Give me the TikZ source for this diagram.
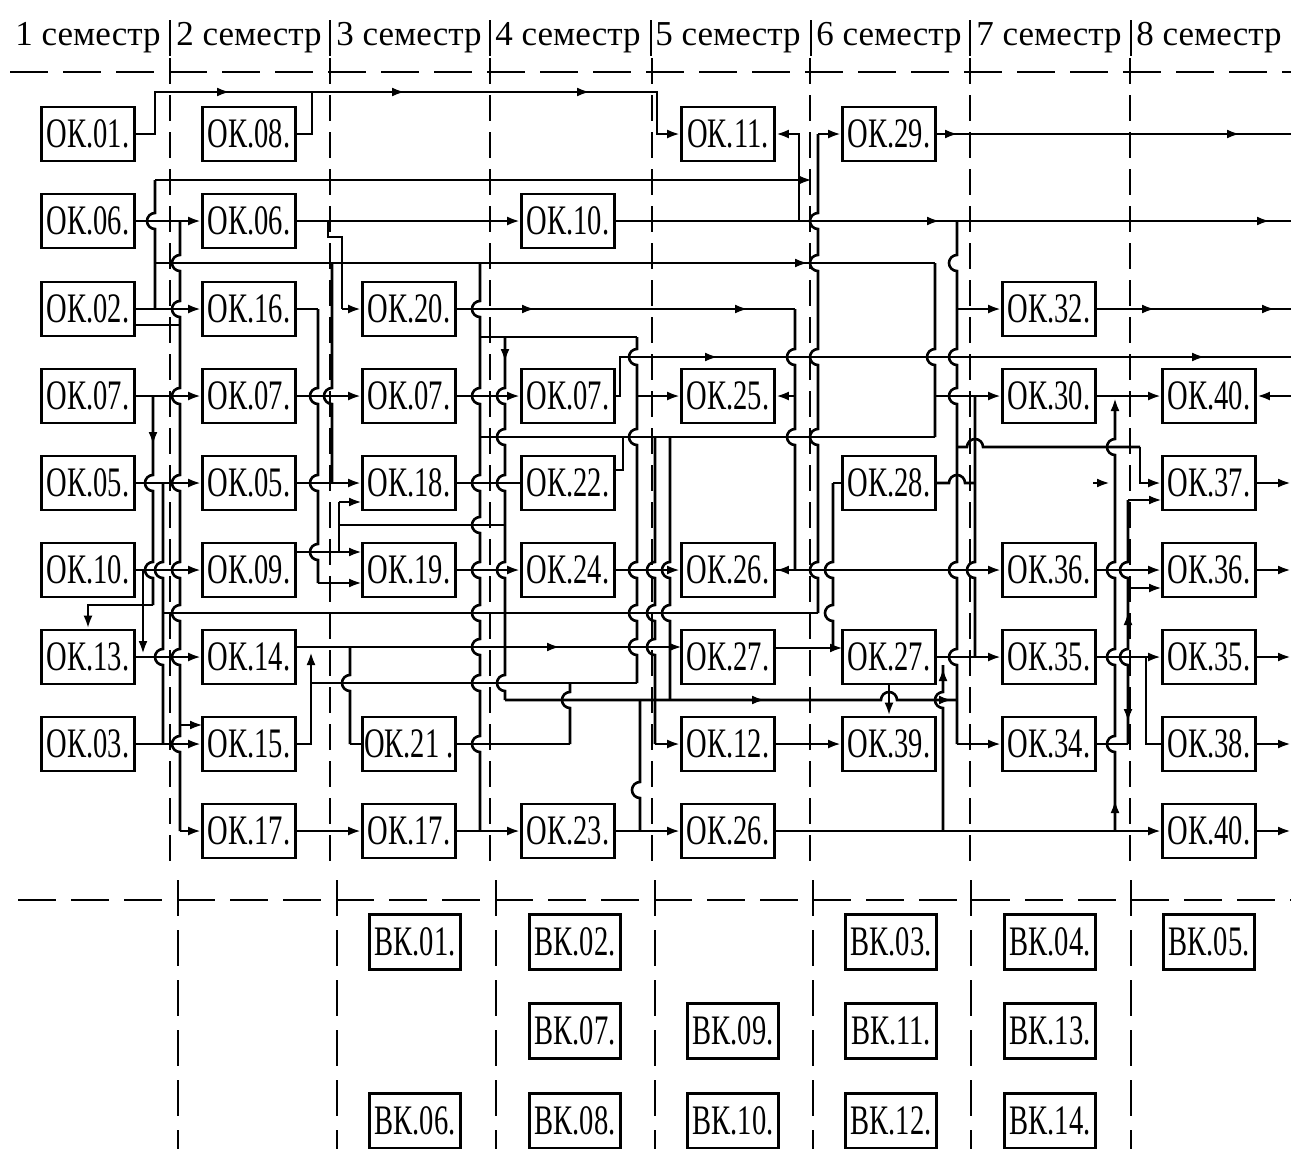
\documentclass[tikz,border=0pt]{standalone}
\usepackage{graphicx}
\usepackage{fontspec}
\setmainfont{Liberation Serif}
\usetikzlibrary{arrows.meta}
\newcommand\sq[1]{\scalebox{0.68}[1]{#1}}
\newcommand\vb[5][conn]{\draw[#1] (#2,#3) \foreach \q in {#5}{ -- (#2,\q-8) arc[start angle=90,end angle=270,radius=8pt]} -- (#2,#4);}
\newcommand\hb[5][conn]{\draw[#1] (#3,#2) \foreach \q in {#5}{ -- (\q-8,#2) arc[start angle=180,end angle=0,radius=8pt]} -- (#4,#2);}
\newcommand\ra[2]{\draw[tip] (#1-14,#2) -- (#1,#2);}
\newcommand\da[2]{\draw[tip] (#1,#2-14) -- (#1,#2);}
\newcommand\ua[2]{\draw[tip] (#1,#2+14) -- (#1,#2);}
\tikzset{
 box/.style={draw, line width=2.8pt, minimum width=93pt, minimum height=54pt, inner sep=0pt, font=\fontsize{42}{42}\selectfont},
 vk/.style={box, line width=3pt, minimum width=91pt, minimum height=55pt},
 conn/.style={line width=2.6pt},
 tip/.style={conn, -{Latex[length=13pt,width=9pt]}},
 gridv/.style={line width=1.6pt, dash pattern=on 26pt off 11pt},
 gridh/.style={line width=1.8pt, dash pattern=on 38pt off 15pt},
 hdr/.style={font=\fontsize{35}{35}\selectfont, inner sep=0pt},
}
\begin{document}
\begin{tikzpicture}[x=1pt,y=-1pt]
\useasboundingbox[fill=white] (0,0) rectangle (1291,1149);
% header
\node[hdr] (h1) at (88,38) {1 семестр};
\node[hdr] (h2) at (249,38) {2 семестр};
\node[hdr] (h3) at (409,38) {3 семестр};
\node[hdr] (h4) at (568,38) {4 семестр};
\node[hdr] (h5) at (728,38) {5 семестр};
\node[hdr] (h6) at (889,38) {6 семестр};
\node[hdr] (h7) at (1049,38) {7 семестр};
\node[hdr] (h8) at (1209,38) {8 семестр};
\foreach \x in {170,330,490,651,811,970,1131} \draw[line width=1.6pt] (\x,20) -- (\x,56);
\draw[gridh] (10,72) -- (1291,72);
\foreach \x in {170,330,490,652,810,970,1130} \draw[gridv] (\x,58) -- (\x,872);
\draw[gridh] (18,900) -- (1291,900);
\foreach \x in {178,337,496,655,813,971,1131} \draw[gridv, dash pattern=on 36pt off 14pt] (\x,880) -- (\x,1149);
% boxes col1
\node[box] (n11) at (88,134) {\sq{ОК.01.}};
\node[box] (n12) at (88,221) {\sq{ОК.06.}};
\node[box] (n13) at (88,309) {\sq{ОК.02.}};
\node[box] (n14) at (88,396) {\sq{ОК.07.}};
\node[box] (n15) at (88,483) {\sq{ОК.05.}};
\node[box] (n16) at (88,570) {\sq{ОК.10.}};
\node[box] (n17) at (88,657) {\sq{ОК.13.}};
\node[box] (n18) at (88,744) {\sq{ОК.03.}};
% col2
\node[box] (n21) at (249,134) {\sq{ОК.08.}};
\node[box] (n22) at (249,221) {\sq{ОК.06.}};
\node[box] (n23) at (249,309) {\sq{ОК.16.}};
\node[box] (n24) at (249,396) {\sq{ОК.07.}};
\node[box] (n25) at (249,483) {\sq{ОК.05.}};
\node[box] (n26) at (249,570) {\sq{ОК.09.}};
\node[box] (n27) at (249,657) {\sq{ОК.14.}};
\node[box] (n28) at (249,744) {\sq{ОК.15.}};
\node[box] (n29) at (249,831) {\sq{ОК.17.}};
% col3
\node[box] (n33) at (409,309) {\sq{ОК.20.}};
\node[box] (n34) at (409,396) {\sq{ОК.07.}};
\node[box] (n35) at (409,483) {\sq{ОК.18.}};
\node[box] (n36) at (409,570) {\sq{ОК.19.}};
\node[box] (n38) at (409,744) {\sq{ОК.21 .}};
\node[box] (n39) at (409,831) {\sq{ОК.17.}};
% col4
\node[box] (n42) at (568,221) {\sq{ОК.10.}};
\node[box] (n44) at (568,396) {\sq{ОК.07.}};
\node[box] (n45) at (568,483) {\sq{ОК.22.}};
\node[box] (n46) at (568,570) {\sq{ОК.24.}};
\node[box] (n49) at (568,831) {\sq{ОК.23.}};
% col5
\node[box] (n51) at (728,134) {\sq{ОК.11.}};
\node[box] (n54) at (728,396) {\sq{ОК.25.}};
\node[box] (n56) at (728,570) {\sq{ОК.26.}};
\node[box] (n57) at (728,657) {\sq{ОК.27.}};
\node[box] (n58) at (728,744) {\sq{ОК.12.}};
\node[box] (n59) at (728,831) {\sq{ОК.26.}};
% col6
\node[box] (n61) at (889,134) {\sq{ОК.29.}};
\node[box] (n65) at (889,483) {\sq{ОК.28.}};
\node[box] (n67) at (889,657) {\sq{ОК.27.}};
\node[box] (n68) at (889,744) {\sq{ОК.39.}};
% col7
\node[box] (n73) at (1049,309) {\sq{ОК.32.}};
\node[box] (n74) at (1049,396) {\sq{ОК.30.}};
\node[box] (n76) at (1049,570) {\sq{ОК.36.}};
\node[box] (n77) at (1049,657) {\sq{ОК.35.}};
\node[box] (n78) at (1049,744) {\sq{ОК.34.}};
% col8
\node[box] (n84) at (1209,396) {\sq{ОК.40.}};
\node[box] (n85) at (1209,483) {\sq{ОК.37.}};
\node[box] (n86) at (1209,570) {\sq{ОК.36.}};
\node[box] (n87) at (1209,657) {\sq{ОК.35.}};
\node[box] (n88) at (1209,744) {\sq{ОК.38.}};
\node[box] (n89) at (1209,831) {\sq{ОК.40.}};
% VK boxes
\node[vk] (v01) at (415,942) {\sq{ВК.01.}};
\node[vk] (v02) at (575,942) {\sq{ВК.02.}};
\node[vk] (v03) at (891,942) {\sq{ВК.03.}};
\node[vk] (v04) at (1050,942) {\sq{ВК.04.}};
\node[vk] (v05) at (1209,942) {\sq{ВК.05.}};
\node[vk] (v07) at (575,1031) {\sq{ВК.07.}};
\node[vk] (v09) at (733,1031) {\sq{ВК.09.}};
\node[vk] (v11) at (891,1031) {\sq{ВК.11.}};
\node[vk] (v13) at (1050,1031) {\sq{ВК.13.}};
\node[vk] (v06) at (415,1121) {\sq{ВК.06.}};
\node[vk] (v08) at (575,1121) {\sq{ВК.08.}};
\node[vk] (v10) at (733,1121) {\sq{ВК.10.}};
\node[vk] (v12) at (891,1121) {\sq{ВК.12.}};
\node[vk] (v14) at (1050,1121) {\sq{ВК.14.}};
% ---------- connectors ----------
% top bus
\draw[tip] (n11.east) -| (155,92) -| (657,134) -- (n51.west);
\draw[conn] (n21.east) -| (312,92);
\ra{230}{92} \ra{405}{92} \ra{590}{92}
\draw[tip] (799,221) |- (n51.east);
% x=155, y=180, y=263
\vb{155}{180}{309}{221}
\draw[tip] (155,180) -- (812,180);
\draw[conn] (155,263) -- (935,263);
\ra{808}{263}
% x=818 bus to OK.29
\vb{818}{134}{613}{221,263,357,437,570}
\draw[tip] (818,134) -- (n61.west);
\draw[conn] (163,613) -- (818,613);
\draw[conn] (n61.east) -- (1291,134); \ra{958}{134} \ra{1240}{134}
\draw[tip] (n22.east) -- (n42.west);
\draw[conn] (n42.east) -- (1291,221); \ra{940}{221} \ra{1270}{221}
% gap 1
\draw[tip] (n12.east) -- (n22.west);
\vb{180}{221}{831}{263,309,396,483,570,613,657,744}
\draw[tip] (180,831) -- (n29.west);
\draw[tip] (180,725) -- (203,725);
\draw[conn] (135,325) -- (180,325);
\draw[tip] (n13.east) -- (n23.west);
\draw[tip] (n14.east) -- (n24.west);
\vb{153}{396}{605}{483,570}
\da{153}{445}
\draw[tip] (153,605) -| (n17.north);
\draw[tip] (n15.east) -- (n25.west);
\vb{163}{483}{744}{570,657}
\draw[tip] (n16.east) -- (n26.west);
\draw[tip] (143,570) -- (143,654);
\draw[tip] (n17.east) -- (n27.west);
\draw[tip] (n18.east) -- (n28.west);
% gap 2
\draw[conn] (328,221) -- (328,237) -- (342,237) -- (342,309);
\draw[tip] (342,309) -- (n33.west);
\vb{332}{263}{483}{396}
\draw[conn] (n23.east) -- (318,309);
\vb{318}{309}{583}{396,483,552}
\draw[tip] (318,583) -- (362,583);
\draw[tip] (n24.east) -- (n34.west);
\draw[tip] (n25.east) -- (n35.west);
\draw[tip] (295,552) -- (362,552);
\draw[conn] (339,502) -- (339,552);
\draw[tip] (339,502) -- (362,502);
\draw[conn] (339,525) -- (505,525);
\draw[tip] (295,647) -- (682,647); \ra{560}{647}
\vb{350}{647}{744}{683}
\draw[conn] (350,744) -- (n38.west);
\draw[tip] (n28.east) -| (311,652);
\draw[conn] (311,683) -- (637,683);
% gap 3
\vb{480}{263}{831}{309,396,483,525,570,613,647,683,744}
\draw[conn] (480,337) -- (637,337);
\vb{505}{337}{700}{396,437,483,570,683}
\da{505}{362}
\hb{700}{505}{957}{889}
\ra{765}{700} \ra{952}{700}
\draw[conn] (n33.east) -- (795,309); \ra{535}{309} \ra{748}{309}
\vb{795}{309}{570}{357,437}
\draw[tip] (795,396) -- (n54.east);
\draw[tip] (795,570) -- (n56.east);
\draw[tip] (n34.east) -- (n44.west);
\draw[conn] (n35.east) -- (n45.west);
\draw[tip] (n36.east) -- (n46.west);
\draw[conn] (n38.east) -- (570,744);
\vb{570}{683}{744}{700}
\draw[tip] (n39.east) -- (n49.west);
\draw[tip] (n29.east) -- (n39.west);
\draw[conn] (480,437) -- (935,437);
% gap 4
\draw[conn] (n44.east) -- (620,396) -- (620,357) -- (1291,357); \ra{718}{357} \ra{1205}{357}
\vb{637}{337}{683}{357,437,570,613,647}
\draw[tip] (637,396) -- (n54.west);
\vb{655}{437}{744}{570,613,647}
\draw[tip] (655,744) -- (n58.west);
\vb{670}{437}{700}{570,613}
\draw[tip] (n46.east) -- (n56.west);
\draw[tip] (n49.east) -- (n59.west);
\vb{640}{700}{831}{790}
\draw[conn] (615,470) -- (623,470) -- (623,437);
% gap 5
\draw[tip] (775,648) -- (843,648);
\vb{833}{483}{648}{570,613}
\draw[conn] (833,483) -- (n65.west);
\draw[tip] (n58.east) -- (n68.west);
\draw[tip] (n56.east) -- (n76.west);
\draw[tip] (n59.east) -- (n89.west);
\draw[tip] (n67.south) -- (n68.north);
% gap 6
\vb{935}{263}{437}{357}
\draw[tip] (935,396) -- (n74.west);
\vb{957}{221}{744}{263,357,396,570,657}
\draw[tip] (957,309) -- (n73.west);
\draw[tip] (957,744) -- (n78.west);
\vb{975}{396}{657}{570}
\draw[tip] (n67.east) -- (n77.west);
\hb{483}{935}{975}{957}
\hb{447}{957}{1140}{975}
\draw[tip] (1140,447) |- (n85.west);
\vb{943}{665}{831}{700}
\ua{943}{668}
% gap 7
\draw[tip] (n74.east) -- (n84.west);
\draw[tip] (n76.east) -- (n86.west);
\draw[tip] (n77.east) -- (n87.west);
\draw[conn] (n78.east) -- (1128,744);
\vb{1115}{405}{831}{447,570,657,744}
\ua{1115}{398} \ua{1115}{800}
\vb{1128}{500}{744}{570,657}
\draw[tip] (1128,500) -- (1162,500);
\draw[tip] (1128,588) -- (1162,588);
\ua{1128}{612} \da{1128}{722}
\draw[conn] (1146,657) -- (1146,744) -- (n88.west);
\draw[tip] (1093,483) -- (1110,483);
% right edge
\draw[conn] (n73.east) -- (1291,309); \ra{1155}{309} \ra{1275}{309}
\draw[tip] (1291,396) -- (n84.east);
\draw[tip] (n85.east) -- (1291,483);
\draw[tip] (n86.east) -- (1291,570);
\draw[tip] (n87.east) -- (1291,657);
\draw[tip] (n88.east) -- (1291,744);
\draw[tip] (n89.east) -- (1291,831);
\end{tikzpicture}
\end{document}
